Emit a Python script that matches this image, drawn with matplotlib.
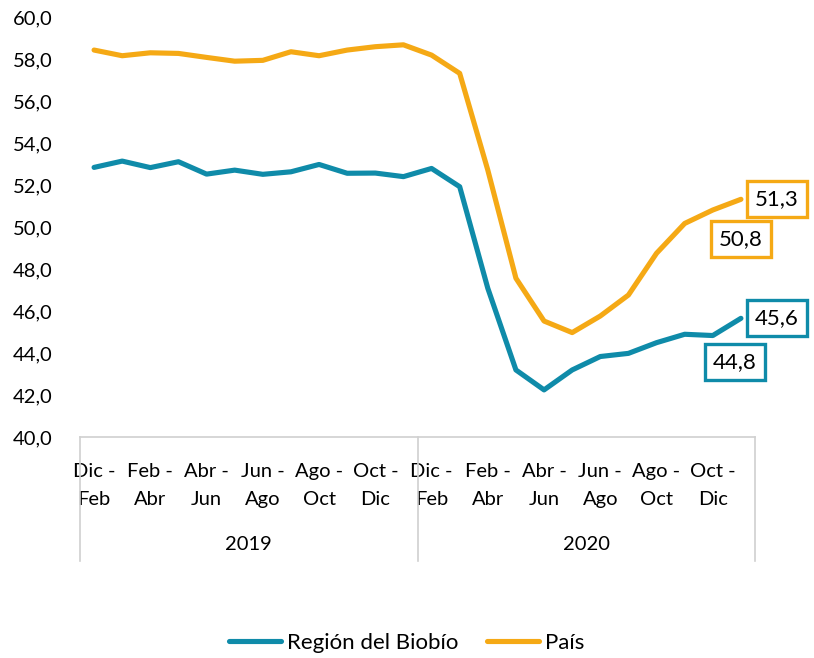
import numpy as np
import matplotlib.pyplot as plt
from matplotlib.ticker import FuncFormatter

# Datos (trimestres móviles)
periodos = ["Dic - Feb", "Ene - Mar", "Feb - Abr", "Mar - May", "Abr - Jun", "May - Jul",
            "Jun - Ago", "Jul - Sep", "Ago - Oct", "Sep - Nov", "Oct - Dic", "Nov - Ene"]
anios = ["2019", "2020"]

biobio = [52.84, 53.14, 52.83, 53.11, 52.52, 52.71, 52.51, 52.63, 52.98, 52.56, 52.57, 52.40,
          52.79, 51.92, 47.08, 43.19, 42.24, 43.19, 43.83, 43.98, 44.49, 44.89, 44.83, 45.65]
pais = [58.43, 58.16, 58.30, 58.27, 58.08, 57.90, 57.94, 58.35, 58.16, 58.43, 58.59, 58.68,
        58.19, 57.32, 52.71, 47.56, 45.52, 44.97, 45.76, 46.76, 48.75, 50.17, 50.81, 51.32]

etiquetas = periodos * len(anios)
color_biobio = "#0F8BA9"
color_pais = "#F5A915"

plt.rcParams['font.family'] = ['Lato', 'DejaVu Sans']
plt.rcParams['font.size'] = 14.5

fig = plt.figure(figsize=(8.14, 6.58), dpi=100)
ax = fig.add_axes([0.0983, 0.336, 0.8292, 0.638])

x = np.arange(len(biobio))
ax.plot(x, biobio, color=color_biobio, lw=3.7, solid_capstyle='round', label="Región del Biobío")
ax.plot(x, pais, color=color_pais, lw=3.7, solid_capstyle='round', label="País")

ax.set_xlim(-0.5, len(x) - 0.5)
ax.set_ylim(40, 60)
ax.set_yticks(np.arange(40, 61, 2))
ax.yaxis.set_major_formatter(FuncFormatter(lambda v, p: f"{v:.1f}".replace(".", ",")))
ax.tick_params(axis='y', length=0, pad=20)

# etiquetas del eje x: una de cada dos
pos = x[::2]
ax.set_xticks(pos)
ax.set_xticklabels([e.replace(" - ", " -\n") for e in etiquetas[::2]], linespacing=1.75)
ax.tick_params(axis='x', length=0, pad=19)

for s in ['left', 'right', 'top']:
    ax.spines[s].set_visible(False)
ax.spines['bottom'].set_color('#D0D0D0')
ax.spines['bottom'].set_linewidth(1.2)

# separadores de años y etiquetas de año
n = len(periodos)
for k in range(len(anios) + 1):
    ax.axvline(k * n - 0.5, ymin=-0.295, ymax=0, color='#D0D0D0', lw=1.2, clip_on=False)
for k, a in enumerate(anios):
    ax.text(k * n + (n - 1) / 2, -0.257, a, transform=ax.get_xaxis_transform(),
            ha='center', va='center')

# etiquetas de datos
def etiqueta(i, serie, color, dx, dy):
    ax.annotate(f"{serie[i]:.1f}".replace(".", ","), xy=(i, serie[i]), xytext=(dx, dy),
                textcoords='offset points', ha='center', va='center', fontsize=16,
                bbox=dict(boxstyle='square,pad=0.36', fc='white', ec=color, lw=2.4))

etiqueta(23, pais, color_pais, 26, 0)
etiqueta(22, pais, color_pais, 20, -21)
etiqueta(23, biobio, color_biobio, 26, 0)
etiqueta(22, biobio, color_biobio, 16, -19)

fig.legend(loc='center', bbox_to_anchor=(0.5, 0.023), ncol=2, frameon=False, fontsize=16,
           handlelength=2.3, columnspacing=1.3, handletextpad=0.3)

fig.savefig("out.png", dpi=100)
